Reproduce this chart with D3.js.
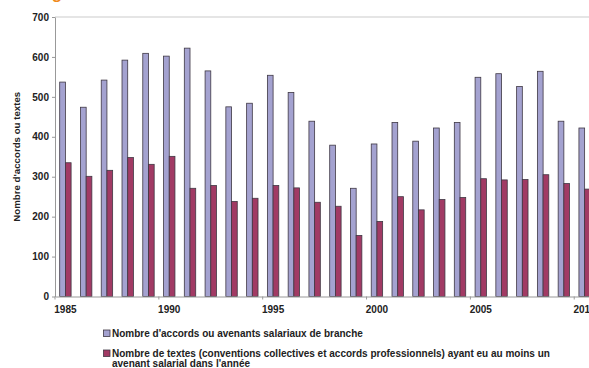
<!DOCTYPE html>
<html>
<head>
<meta charset="utf-8">
<script src="https://cdn.jsdelivr.net/npm/d3@7"></script>
<style>
  body { margin: 0; background: #fff; }
  svg { display: block; font-family: "Liberation Sans", Arial, sans-serif; }
  .axis text { font-weight: bold; font-size: 10px; fill: #222; }
  .axis path, .axis line { stroke: #999; }
</style>
</head>
<body>
<svg id="chart" width="589" height="368"></svg>
<script>
// years and values
var years = d3.range(1985, 2011);
var accords = [537, 474, 542, 592, 609, 602, 622, 565, 475, 484, 554, 511, 439,
               379, 271, 382, 436, 389, 422, 436, 549, 558, 526, 564, 439, 422];
var textes = [335, 301, 316, 348, 331, 351, 271, 278, 238, 246, 278, 272, 236,
              226, 153, 188, 250, 217, 243, 248, 295, 292, 293, 305, 283, 269];
var yTicks = [0, 100, 200, 300, 400, 500, 600, 700];
var legendLabels = [
    ["Nombre d'accords ou avenants salariaux de branche"],
    ["Nombre de textes (conventions collectives et accords professionnels) ayant eu au moins un",
     "avenant salarial dans l'année"]
];
var colors = ["#a4a2d0", "#a13a64"];

var svg = d3.select("#chart"),
    margin = {top: 17, left: 55},
    plotRight = 595,
    plotBottom = 296.5;

var x = d3.scaleBand().domain(years).range([margin.left, plotRight]).padding(0),
    y = d3.scaleLinear().domain([0, 700]).range([plotBottom, margin.top]),
    inner = d3.scaleBand().domain([0, 1]).range([4.7, 16.1]);

// orange title, mostly above the page edge
svg.append("text")
    .attr("x", 30).attr("y", -1.5)
    .attr("fill", "#f08a1c")
    .style("font-size", "17px").style("font-weight", "bold")
    .text("Négociation salariale de branche");

// top line of the plot
svg.append("line")
    .attr("x1", margin.left).attr("x2", plotRight)
    .attr("y1", y(700)).attr("y2", y(700))
    .attr("stroke", "#ccc").attr("stroke-width", 1.2);

var groups = svg.append("g").selectAll("g")
    .data(years)
    .enter().append("g")
    .attr("transform", function (d) { return "translate(" + x(d) + ",0)"; });

groups.selectAll("rect")
    .data(function (d, i) { return [accords[i], textes[i]]; })
    .enter().append("rect")
    .attr("x", function (d, j) { return inner(j); })
    .attr("width", inner.bandwidth())
    .attr("y", function (d) { return y(d); })
    .attr("height", function (d) { return plotBottom - y(d); })
    .attr("fill", function (d, j) { return colors[j]; })
    .attr("stroke", "#3f3844")
    .attr("stroke-width", 0.8);

// y axis
var yAxis = d3.axisLeft(y).tickValues(yTicks).tickSize(3).tickSizeOuter(0);
svg.append("g")
    .attr("class", "axis")
    .attr("transform", "translate(" + margin.left + ",0)")
    .call(yAxis)
    .call(function (g) { g.selectAll("text").attr("x", -6); });

// x axis: labels every 5 years, ticks on the category edges
var xAxis = d3.axisBottom(x)
    .tickValues(years.filter(function (d) { return d % 5 === 0; }))
    .tickSize(3).tickSizeOuter(0);
svg.append("g")
    .attr("class", "axis")
    .attr("transform", "translate(0," + plotBottom + ")")
    .call(xAxis)
    .call(function (g) {
        g.selectAll(".tick line").attr("x1", -x.bandwidth() / 2).attr("x2", -x.bandwidth() / 2);
        g.selectAll(".tick text").attr("y", 9);
    });

// y title
svg.append("text")
    .attr("transform", "translate(20," + ((margin.top + plotBottom) / 2) + ") rotate(-90)")
    .attr("text-anchor", "middle")
    .style("font-size", "9.7px").style("font-weight", "bold")
    .attr("fill", "#222")
    .text("Nombre d'accords ou textes");

// legend
var legend = svg.append("g").selectAll("g")
    .data(legendLabels)
    .enter().append("g")
    .attr("transform", function (d, i) { return "translate(103.5," + (330 + i * 20) + ")"; });

legend.append("rect")
    .attr("width", 6.5).attr("height", 6.5)
    .attr("fill", function (d, i) { return colors[i]; })
    .attr("stroke", "#3f3844").attr("stroke-width", 0.8);

legend.append("text")
    .attr("x", 8.5).attr("y", 7)
    .style("font-size", "10px").style("font-weight", "bold")
    .attr("fill", "#222")
    .selectAll("tspan")
    .data(function (d) { return d; })
    .enter().append("tspan")
    .attr("x", 8.5)
    .attr("dy", function (d, k) { return k === 0 ? 0 : 9.5; })
    .text(function (d) { return d; });
</script>
</body>
</html>
